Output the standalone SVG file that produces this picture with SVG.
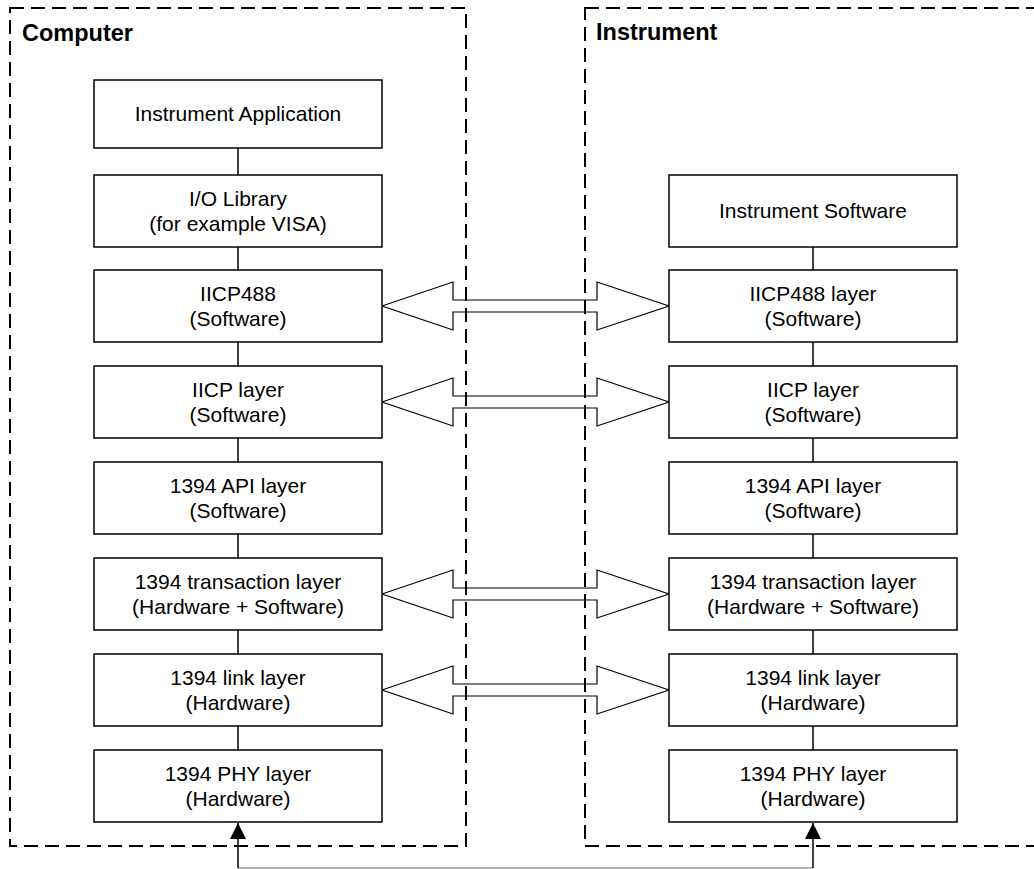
<svg xmlns="http://www.w3.org/2000/svg" width="1034" height="869" viewBox="0 0 1034 869">
<defs>
<style>
.box{fill:#fff;stroke:#000;stroke-width:1.5}
.t{font-family:"Liberation Sans",Arial,sans-serif;font-size:21px;fill:#000;text-anchor:middle}
.h{font-family:"Liberation Sans",Arial,sans-serif;font-size:23.5px;font-weight:bold;fill:#000}
.dash{fill:none;stroke:#000;stroke-width:2;stroke-dasharray:14 7}
.ln{stroke:#000;stroke-width:1.5;fill:none}
.blk{fill:none;stroke:#000;stroke-width:1.2;stroke-linejoin:miter}
</style>
<marker id="ah" viewBox="0 0 16 16" refX="16" refY="8" markerWidth="16" markerHeight="16" markerUnits="userSpaceOnUse" orient="auto">
<path d="M0,0 L16,8 L0,16 z" fill="#000"/>
</marker>
</defs>

<g id="containers">
<rect class="dash" x="10" y="8" width="456" height="838"/>
<rect class="dash" x="585" y="8" width="470" height="838"/>
<text class="h" x="22" y="41">Computer</text>
<text class="h" x="596" y="40">Instrument</text>
</g>

<g id="connectors">
<line class="ln" x1="238" y1="148" x2="238" y2="175"/>
<line class="ln" x1="238" y1="247" x2="238" y2="270"/>
<line class="ln" x1="238" y1="342" x2="238" y2="366"/>
<line class="ln" x1="238" y1="438" x2="238" y2="462"/>
<line class="ln" x1="238" y1="534" x2="238" y2="558"/>
<line class="ln" x1="238" y1="630" x2="238" y2="654"/>
<line class="ln" x1="238" y1="726" x2="238" y2="750"/>
<line class="ln" x1="813" y1="247" x2="813" y2="270"/>
<line class="ln" x1="813" y1="342" x2="813" y2="366"/>
<line class="ln" x1="813" y1="438" x2="813" y2="462"/>
<line class="ln" x1="813" y1="534" x2="813" y2="558"/>
<line class="ln" x1="813" y1="630" x2="813" y2="654"/>
<line class="ln" x1="813" y1="726" x2="813" y2="750"/>
<polygon class="blk" points="382,306 453,282 453,300 597,300 597,282 669,306 597,330 597,312 453,312 453,330"/>
<polygon class="blk" points="382,402 453,378 453,396 597,396 597,378 669,402 597,426 597,408 453,408 453,426"/>
<polygon class="blk" points="382,594 453,570 453,588 597,588 597,570 669,594 597,618 597,600 453,600 453,618"/>
<polygon class="blk" points="382,690 453,666 453,684 597,684 597,666 669,690 597,714 597,696 453,696 453,714"/>
<line x1="238" y1="868" x2="813" y2="868" stroke="#999" stroke-width="1.5"/>
<line class="ln" x1="238" y1="868" x2="238" y2="823" marker-end="url(#ah)"/>
<line class="ln" x1="813" y1="868" x2="813" y2="823" marker-end="url(#ah)"/>
</g>

<g id="c1"><rect class="box" x="94" y="80" width="288" height="68"/><text class="t" x="238" y="121">Instrument Application</text></g>
<g id="c2"><rect class="box" x="94" y="175" width="288" height="72"/><text class="t" x="238" y="206">I/O Library</text><text class="t" x="238" y="231">(for example VISA)</text></g>
<g id="c3"><rect class="box" x="94" y="270" width="288" height="72"/><text class="t" x="238" y="301">IICP488</text><text class="t" x="238" y="326">(Software)</text></g>
<g id="c4"><rect class="box" x="94" y="366" width="288" height="72"/><text class="t" x="238" y="397">IICP layer</text><text class="t" x="238" y="422">(Software)</text></g>
<g id="c5"><rect class="box" x="94" y="462" width="288" height="72"/><text class="t" x="238" y="493">1394 API layer</text><text class="t" x="238" y="518">(Software)</text></g>
<g id="c6"><rect class="box" x="94" y="558" width="288" height="72"/><text class="t" x="238" y="589">1394 transaction layer</text><text class="t" x="238" y="614">(Hardware + Software)</text></g>
<g id="c7"><rect class="box" x="94" y="654" width="288" height="72"/><text class="t" x="238" y="685">1394 link layer</text><text class="t" x="238" y="710">(Hardware)</text></g>
<g id="c8"><rect class="box" x="94" y="750" width="288" height="72"/><text class="t" x="238" y="781">1394 PHY layer</text><text class="t" x="238" y="806">(Hardware)</text></g>

<g id="i2"><rect class="box" x="669" y="175" width="288" height="72"/><text class="t" x="813" y="218">Instrument Software</text></g>
<g id="i3"><rect class="box" x="669" y="270" width="288" height="72"/><text class="t" x="813" y="301">IICP488 layer</text><text class="t" x="813" y="326">(Software)</text></g>
<g id="i4"><rect class="box" x="669" y="366" width="288" height="72"/><text class="t" x="813" y="397">IICP layer</text><text class="t" x="813" y="422">(Software)</text></g>
<g id="i5"><rect class="box" x="669" y="462" width="288" height="72"/><text class="t" x="813" y="493">1394 API layer</text><text class="t" x="813" y="518">(Software)</text></g>
<g id="i6"><rect class="box" x="669" y="558" width="288" height="72"/><text class="t" x="813" y="589">1394 transaction layer</text><text class="t" x="813" y="614">(Hardware + Software)</text></g>
<g id="i7"><rect class="box" x="669" y="654" width="288" height="72"/><text class="t" x="813" y="685">1394 link layer</text><text class="t" x="813" y="710">(Hardware)</text></g>
<g id="i8"><rect class="box" x="669" y="750" width="288" height="72"/><text class="t" x="813" y="781">1394 PHY layer</text><text class="t" x="813" y="806">(Hardware)</text></g>
</svg>
